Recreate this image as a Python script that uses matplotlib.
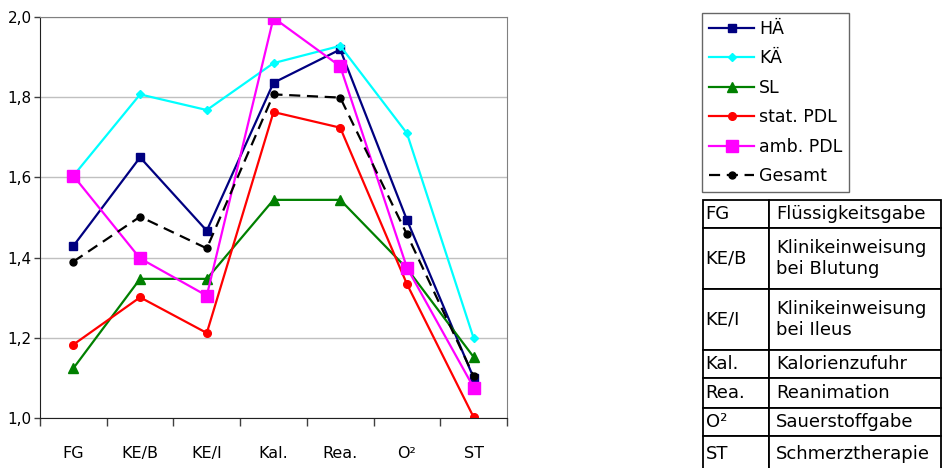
import numpy as np
import matplotlib
matplotlib.use('Agg')
import matplotlib.pyplot as plt

plt.rcParams['font.family'] = ['DejaVu Sans']

# ── Daten ────────────────────────────────────────────────────────────────────
kategorien = ['FG', 'KE/B', 'KE/I', 'Kal.', 'Rea.', 'O²', 'ST']

ha_werte     = [1.429, 1.650, 1.467, 1.836, 1.919, 1.494, 1.100]
ka_werte     = [1.604, 1.807, 1.768, 1.885, 1.928, 1.710, 1.199]
sl_werte     = [1.124, 1.347, 1.347, 1.544, 1.544, 1.373, 1.152]
stat_werte   = [1.183, 1.301, 1.212, 1.763, 1.724, 1.334, 1.002]
amb_werte    = [1.604, 1.398, 1.305, 1.998, 1.877, 1.375, 1.076]
gesamt_werte = [1.390, 1.502, 1.423, 1.807, 1.799, 1.458, 1.105]

y_ticks  = [1.0, 1.2, 1.4, 1.6, 1.8, 2.0]
y_labels = ['1,0', '1,2', '1,4', '1,6', '1,8', '2,0']

tabelle = [['FG', 'Flüssigkeitsgabe'],
           ['KE/B', 'Klinikeinweisung\nbei Blutung'],
           ['KE/I', 'Klinikeinweisung\nbei Ileus'],
           ['Kal.', 'Kalorienzufuhr'],
           ['Rea.', 'Reanimation'],
           ['O²', 'Sauerstoffgabe'],
           ['ST', 'Schmerztherapie']]

# ── Abbildung ────────────────────────────────────────────────────────────────
fig = plt.figure(figsize=(9.46, 4.68), dpi=100)
ax = fig.add_axes([40/946, 50/468, 467/946, 401/468])

x = np.arange(len(kategorien))
ax.plot(x, ha_werte, color='#000080', lw=1.6, marker='s', ms=5.5, label='HÄ')
ax.plot(x, ka_werte, color='#00FFFF', lw=1.6, marker='D', ms=4, label='KÄ')
ax.plot(x, sl_werte, color='#008000', lw=1.6, marker='^', ms=6.5, label='SL')
ax.plot(x, stat_werte, color='#FF0000', lw=1.6, marker='o', ms=5.5, label='stat. PDL')
ax.plot(x, amb_werte, color='#FF00FF', lw=1.6, marker='s', ms=8, label='amb. PDL')
ax.plot(x, gesamt_werte, color='black', lw=1.6, marker='o', ms=5, dashes=(5, 3),
        label='Gesamt')

ax.set_xlim(-0.5, len(kategorien) - 0.5)
ax.set_ylim(1.0, 2.0)
ax.set_yticks(y_ticks, y_labels)
ax.yaxis.grid(True, color='#C0C0C0', lw=1)
ax.set_axisbelow(True)

ax.set_xticks(np.arange(-0.5, len(kategorien)), [])
ax.set_xticks(x, kategorien, minor=True)
ax.tick_params(axis='x', which='major', length=6, width=1, color='#404040')
ax.tick_params(axis='x', which='minor', length=0, pad=20, labelsize=11.5)
ax.tick_params(axis='y', length=4, width=1, pad=2, labelsize=11, color='#404040')

for s in ['left', 'bottom']:
    ax.spines[s].set_color('#202020')
for s in ['top', 'right']:
    ax.spines[s].set_color('#808080')

leg = fig.legend(loc='upper left', bbox_to_anchor=(702/946, 1 - 13/468),
                 frameon=True, fancybox=False, edgecolor='#404040',
                 fontsize=12.5, handlelength=2.6, labelspacing=0.66,
                 borderpad=0.4, handletextpad=0.3, borderaxespad=0)
leg.get_frame().set_linewidth(1)

# ── Tabelle ──────────────────────────────────────────────────────────────────
tax = fig.add_axes([703/946, -0.01, 238/946, 268/468 + 0.01])
tax.axis('off')
tab = tax.table(cellText=tabelle, cellLoc='left', colWidths=[66, 172],
                bbox=[0, 0, 1, 1])
tab.auto_set_font_size(False)
tab.set_fontsize(13)
hoehen = [28, 61, 61, 28, 29, 28, 37]
for (r, c), cell in tab.get_celld().items():
    cell.set_height(hoehen[r])
    cell.set_linewidth(1.3)
    cell.set_edgecolor('black')
    cell.PAD = 0.04

fig.savefig('out.png', dpi=100)
